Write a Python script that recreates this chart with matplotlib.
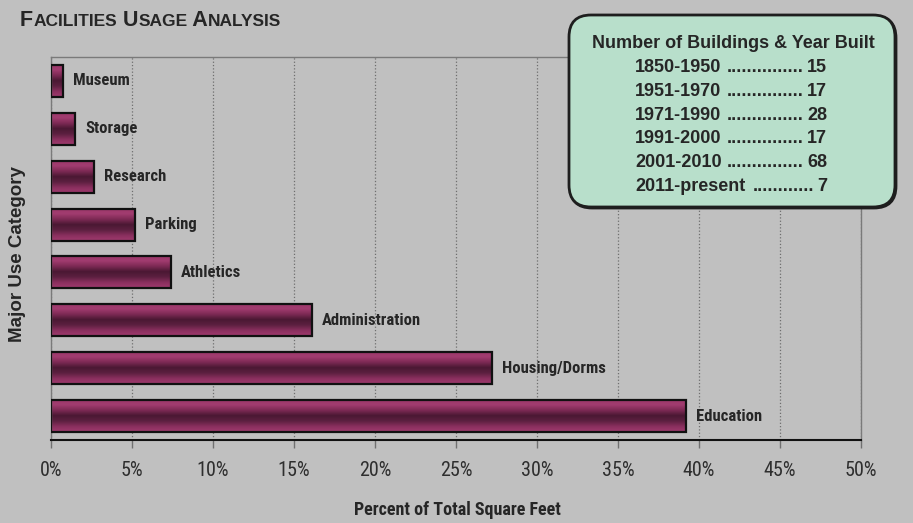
import numpy as np
import matplotlib.pyplot as plt
from matplotlib.colors import LinearSegmentedColormap
from matplotlib.patches import FancyBboxPatch
from matplotlib.transforms import IdentityTransform
from matplotlib.offsetbox import TextArea, HPacker, AnchoredOffsetbox

#%% data
categories = ['Museum', 'Storage', 'Research', 'Parking', 'Athletics',
              'Administration', 'Housing/Dorms', 'Education']
percent = [0.75, 1.5, 2.65, 5.2, 7.4, 16.1, 27.2, 39.2]

periods = ['1850-1950', '1951-1970', '1971-1990', '1991-2000', '2001-2010', '2011-present']
counts = [15, 17, 28, 17, 68, 7]

x_ticks = np.arange(0, 55, 5)

#%% style
W, H = 913, 523
BG = '#c0c0c0'
INK = '#262626'
NARROW = ['Roboto Condensed', 'Liberation Sans Narrow', 'Liberation Sans']
ARIAL = ['Liberation Sans', 'DejaVu Sans']

def fx(px):
    return px / W

def fy(py):
    return 1 - py / H

fig = plt.figure(figsize=(W / 100, H / 100), dpi=100, facecolor=BG)
ax = fig.add_axes([fx(51), fy(440), 810 / W, 383 / H], facecolor=BG)

#%% bars with a vertical shade
shade = LinearSegmentedColormap.from_list(
    'shade', ['#9c386a', '#a23c70', '#7e2a55', '#4a1833', '#5c2040', '#8a2f5e', '#a03b6e'])
grad = np.linspace(0, 1, 128).reshape(-1, 1)
ypos = np.arange(len(categories))
bh = 0.67
for y, v in zip(ypos, percent):
    ax.imshow(grad, extent=[0, v, y + bh / 2, y - bh / 2], aspect='auto',
              cmap=shade, interpolation='bilinear', zorder=2)
ax.barh(ypos, percent, height=bh, facecolor='none', edgecolor='#111111',
        linewidth=1.6, zorder=3)

for y, v, name in zip(ypos, percent, categories):
    ax.annotate(name, (v, y), xytext=(10, 0), textcoords='offset pixels',
                ha='left', va='center', fontsize=12, fontweight='bold',
                family=NARROW, color=INK)

ax.set_xlim(0, 50)
ax.set_ylim(len(categories) - 0.5, -0.5)
ax.set_xticks(x_ticks)
ax.set_xticklabels([f'{t}%' for t in x_ticks], fontsize=14.5, family=NARROW, color='#2e2e2e')
ax.set_yticks([])
ax.tick_params(axis='x', length=6, width=1, color='#707070', pad=9)
ax.xaxis.grid(True, linestyle=':', color='#6e6e6e', linewidth=0.9)
ax.set_axisbelow(True)
for s in ['top', 'left', 'right']:
    ax.spines[s].set_color('#7a7a7a')
    ax.spines[s].set_linewidth(1)
ax.spines['bottom'].set_color('#111111')
ax.spines['bottom'].set_linewidth(1.5)

#%% axis titles
fig.text(fx(457), fy(510), 'Percent of Total Square Feet', ha='center', va='center',
         fontsize=13, fontweight='bold', family=NARROW, color=INK)
fig.text(fx(18), fy(254), 'Major Use Category', rotation=90, ha='center', va='center',
         fontsize=13.5, fontweight='bold', family=ARIAL, color=INK)

#%% small-caps heading
big, small = 15.5, 12.5
parts = [('F', big), ('ACILITIES', small), (' U', big), ('SAGE', small),
         (' A', big), ('NALYSIS', small)]
boxes = [TextArea(s, textprops=dict(fontsize=fs, fontweight='bold', family=ARIAL, color=INK))
         for s, fs in parts]
heading = HPacker(children=boxes, align='baseline', pad=0, sep=0)
anchored = AnchoredOffsetbox(loc='lower left', child=heading, pad=0, borderpad=0,
                             frameon=False, bbox_to_anchor=(fx(20), fy(31)),
                             bbox_transform=fig.transFigure)
fig.add_artist(anchored)

#%% building-age box
px = IdentityTransform()
shadow = FancyBboxPatch((570, H - 208), 326, 192, boxstyle='round,pad=0,rounding_size=22',
                        transform=px, facecolor='none', edgecolor='#1e1e1e',
                        linewidth=2, zorder=4)
panel = FancyBboxPatch((569, H - 207), 326, 192, boxstyle='round,pad=0,rounding_size=22',
                       transform=px, facecolor='#b8dfcb', edgecolor='#1e1e1e',
                       linewidth=2, zorder=5)
fig.add_artist(shadow)
fig.add_artist(panel)

fig.text(fx(733), fy(47.7), 'Number of Buildings & Year Built', ha='center', va='baseline',
         fontsize=13, fontweight='bold', family=ARIAL, color=INK, zorder=6)

row_left, row_right = 635, 827
lefts, rights, bases = [], [], []
for i, (p, c) in enumerate(zip(periods, counts)):
    base = 71.7 + 23.9 * i
    lefts.append(fig.text(fx(row_left), fy(base), p, ha='left', va='baseline', fontsize=13,
                          fontweight='bold', family=ARIAL, color=INK, zorder=6))
    rights.append(fig.text(fx(row_right), fy(base), str(c), ha='right', va='baseline',
                           fontsize=13, fontweight='bold', family=ARIAL, color=INK, zorder=6))
    bases.append(base)

# leader dots between period and count
renderer = fig.canvas.get_renderer()
probe = fig.text(0, 0, '.' * 20, fontsize=13, fontweight='bold', family=ARIAL)
dot_w = probe.get_window_extent(renderer).width / 20
probe.remove()
for lt, rt, base in zip(lefts, rights, bases):
    x0 = lt.get_window_extent(renderer).x1 + 5
    x1 = rt.get_window_extent(renderer).x0 - 3
    n = max(int((x1 - x0) / dot_w), 1)
    fig.text(x1 / W, fy(base), '.' * n, ha='right', va='baseline', fontsize=13,
             fontweight='bold', family=ARIAL, color=INK, zorder=6)

fig.savefig('out.png', dpi=100, facecolor=BG)
